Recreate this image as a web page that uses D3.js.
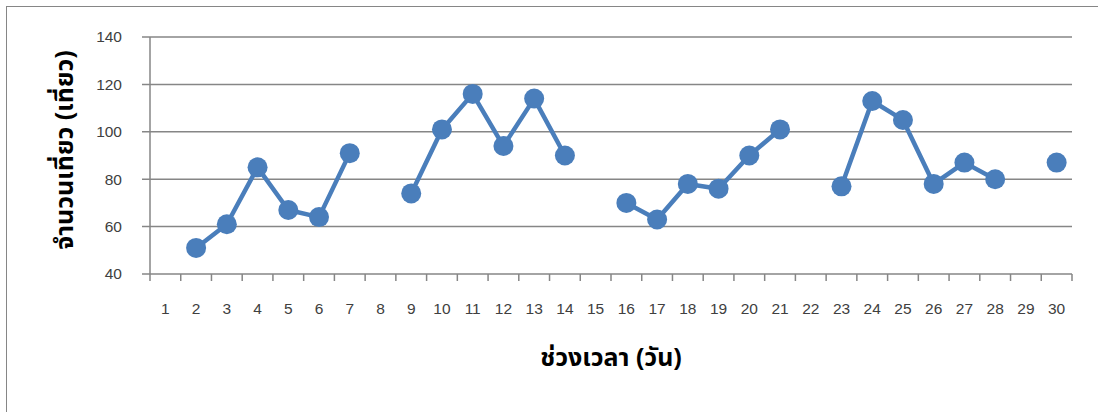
<!DOCTYPE html>
<html><head><meta charset="utf-8">
<script src="https://cdn.jsdelivr.net/npm/d3@7"></script>
<style>body{margin:0;background:#fff}svg{display:block}</style>
</head><body>
<svg id="c" width="1098" height="412"></svg>
<script>
const days = d3.range(1, 31).map(String);
const trips = [null,51,61,85,67,64,91,null,74,101,116,94,114,90,null,70,63,78,76,90,101,null,77,113,105,78,87,80,null,87];
const yTicks = [40,60,80,100,120,140];
const xTitle = "ช่วงเวลา (วัน)";
const yTitle = "จำนวนเที่ยว (เที่ยว)";

(function(){
const svg = d3.select("#c");
const pl = 150, pr = 1072, pt = 37, pb = 274;
const grey = "#868686";

svg.append("rect").attr("x",6.5).attr("y",6.5).attr("width",1200).attr("height",500)
  .attr("fill","none").attr("stroke",grey).attr("stroke-width",1);

const x = d3.scaleBand().domain(days).range([pl,pr]);
const y = d3.scaleLinear().domain([40,140]).range([pb,pt]);

svg.append("g").selectAll("line").data(yTicks).join("line")
  .attr("x1",pl-8).attr("x2",pr).attr("y1",d=>y(d)).attr("y2",d=>y(d))
  .attr("stroke",grey).attr("stroke-width",1.5);
svg.append("line").attr("x1",pl).attr("x2",pl).attr("y1",pt).attr("y2",pb)
  .attr("stroke",grey).attr("stroke-width",1.5);
svg.append("g").selectAll("text").data(yTicks).join("text")
  .attr("x",122).attr("y",d=>y(d)).attr("dy","0.35em").attr("text-anchor","end")
  .attr("font-family","Liberation Sans, Arial, sans-serif").attr("font-size",15.5).attr("fill","#404040")
  .text(d=>d);
const bounds = days.map(d=>x(d)).concat([pr]);
svg.append("g").selectAll("line").data(bounds).join("line")
  .attr("x1",d=>d).attr("x2",d=>d).attr("y1",pb).attr("y2",pb+7)
  .attr("stroke",grey).attr("stroke-width",1.5);
svg.append("g").selectAll("text").data(days).join("text")
  .attr("x",d=>x(d)+x.bandwidth()/2).attr("y",309).attr("dy","0.35em").attr("text-anchor","middle")
  .attr("font-family","Liberation Sans, Arial, sans-serif").attr("font-size",15.5).attr("fill","#404040")
  .text(d=>d);

const pts = days.map((d,i)=>({d, v:trips[i]}));
const line = d3.line().defined(p=>p.v!=null).x(p=>x(p.d)+x.bandwidth()/2).y(p=>y(p.v));
const col = "#4a7ebb";
svg.append("path").datum(pts).attr("d",line).attr("fill","none")
  .attr("stroke",col).attr("stroke-width",4.5).attr("stroke-linejoin","round");
svg.append("g").selectAll("circle").data(pts.filter(p=>p.v!=null)).join("circle")
  .attr("cx",p=>x(p.d)+x.bandwidth()/2).attr("cy",p=>y(p.v)).attr("r",10).attr("fill",col);

svg.append("text").attr("x",611).attr("y",357).attr("dy","0.35em").attr("text-anchor","middle")
  .attr("font-size",25).attr("font-weight","bold").attr("fill","#000")
  .attr("font-family","Noto Sans Thai, Tahoma, sans-serif").text(xTitle);
svg.append("text").attr("transform","translate(64,150) rotate(-90)").attr("dy","0.35em").attr("text-anchor","middle")
  .attr("font-size",25).attr("font-weight","bold").attr("fill","#000")
  .attr("font-family","Noto Sans Thai, Tahoma, sans-serif").text(yTitle);
})();
</script>
</body></html>
